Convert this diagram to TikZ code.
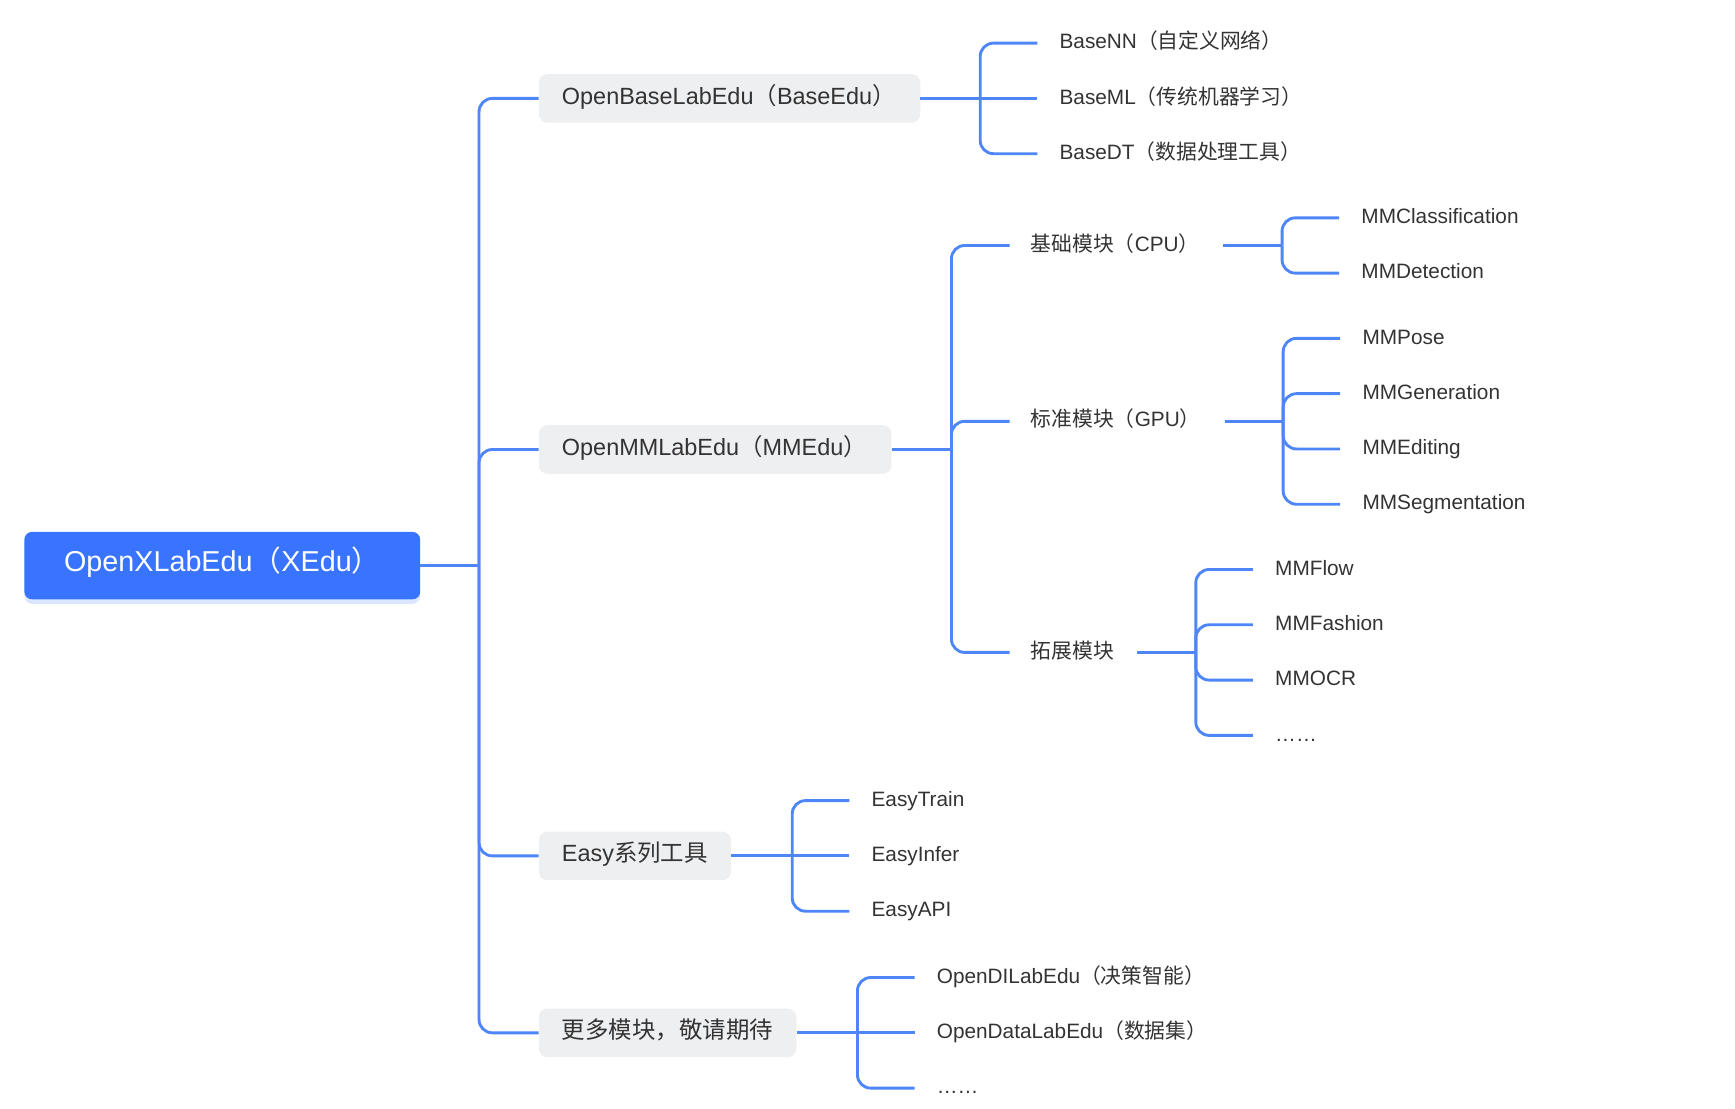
\documentclass[tikz,border=0pt]{standalone}
\usepackage{fontspec}
\setmainfont{Liberation Sans}
\newfontfamily\cjk{Noto Sans CJK SC}
\usetikzlibrary{shadows}
\newcommand\zh[1]{{\cjk #1}}
\newcommand\fs[1]{\fontsize{#1}{#1}\selectfont}
\definecolor{rootblue}{HTML}{3874FF}
\definecolor{linkblue}{HTML}{4F86F7}
\definecolor{boxgray}{HTML}{EEEFF1}
\definecolor{txt}{HTML}{333333}
\tikzset{
  rootbox/.style={rectangle, rounded corners=7pt, fill=rootblue, text=white,
    minimum width=358pt, minimum height=61pt, inner sep=0pt,
    font=\fs{26pt}, text height=1.02em, text depth=0pt,
    drop shadow={opacity=0.18, shadow xshift=0pt, shadow yshift=-4pt, fill=rootblue}},
  lvlbox/.style={rectangle, rounded corners=8pt, fill=boxgray, text=txt, anchor=west,
    minimum height=44pt, inner ysep=0pt, inner xsep=21pt,
    font=\fs{21.2pt}, text height=1.02em, text depth=0pt},
  midtext/.style={anchor=west, text=txt, inner ysep=0pt, inner xsep=19pt,
    font=\fs{18.8pt}, text height=1.02em, text depth=0pt},
  leaf/.style={anchor=west, text=txt, inner ysep=0pt, inner xsep=20pt,
    font=\fs{18.8pt}, text height=1.02em, text depth=0pt},
  link/.style={draw=linkblue, line width=2.6pt},
  curve/.style={link, rounded corners=12pt},
}
\begin{document}
\begin{tikzpicture}[x=1pt, y=-1pt]
\useasboundingbox (0,0) rectangle (1569,1002);

% root
\node[rootbox] (root) at (201,511.5) {OpenXLabEdu\zh{（}XEdu\zh{）}};
\coordinate (jroot) at ([xshift=53pt]root.east);

% level 1
\node[lvlbox] (b1) at (487,89) {\makebox[303pt][l]{OpenBaseLabEdu\zh{（}BaseEdu\zh{）}}};
\node[lvlbox] (b2) at (487,406.5) {\makebox[277pt][l]{OpenMMLabEdu\zh{（}MMEdu\zh{）}}};
\node[lvlbox] (b3) at (487,774) {\makebox[132pt][l]{Easy\zh{系列工具}}};
\node[lvlbox] (b4) at (487,934) {\makebox[191pt][l]{\zh{更多模块，敬请期待}}};

\draw[link] (root.east) -- (jroot);
\foreach \n in {b1,b2,b3,b4} \draw[curve] (jroot) |- (\n.west);

% BaseEdu children
\coordinate (j1) at ([xshift=54pt]b1.east);
\node[leaf] (nn) at (938,39) {BaseNN\zh{（自定义网络）}};
\node[leaf] (ml) at (938,89) {BaseML\zh{（传统机器学习）}};
\node[leaf] (dt) at (938,139) {BaseDT\zh{（数据处理工具）}};
\draw[link] (b1.east) -- (ml.west);
\draw[curve] (j1) |- (nn.west);
\draw[curve] (j1) |- (dt.west);

% MMEdu children
\coordinate (j2) at ([xshift=54pt]b2.east);
\node[midtext] (cpu) at (913,222) {\makebox[155pt][l]{\zh{基础模块（}CPU\zh{）}}};
\node[midtext] (gpu) at (913,381) {\makebox[156pt][l]{\zh{标准模块（}GPU\zh{）}}};
\node[midtext] (ext) at (913,590) {\makebox[77pt][l]{\zh{拓展模块}}};
\draw[link] (b2.east) -- (j2);
\foreach \n in {cpu,gpu,ext} \draw[curve] (j2) |- (\n.west);

% CPU children
\coordinate (j3) at ([xshift=53pt]cpu.east);
\node[leaf] (cls) at (1211,197) {MMClassification};
\node[leaf] (det) at (1211,247) {MMDetection};
\draw[link] (cpu.east) -- (j3);
\foreach \n in {cls,det} \draw[curve] (j3) |- (\n.west);

% GPU children
\coordinate (j4) at ([xshift=53pt]gpu.east);
\node[leaf] (pose) at (1212,306) {MMPose};
\node[leaf] (gen) at (1212,356) {MMGeneration};
\node[leaf] (edit) at (1212,406) {MMEditing};
\node[leaf] (seg) at (1212,456) {MMSegmentation};
\draw[link] (gpu.east) -- (j4);
\foreach \n in {pose,gen,edit,seg} \draw[curve] (j4) |- (\n.west);

% extension children
\coordinate (j5) at ([xshift=53pt]ext.east);
\node[leaf] (flow) at (1133,515) {MMFlow};
\node[leaf] (fash) at (1133,565) {MMFashion};
\node[leaf] (ocr) at (1133,615) {MMOCR};
\node[leaf] (etc1) at (1133,665) {……};
\draw[link] (ext.east) -- (j5);
\foreach \n in {flow,fash,ocr,etc1} \draw[curve] (j5) |- (\n.west);

% Easy children
\coordinate (j6) at ([xshift=55pt]b3.east);
\node[leaf] (train) at (768,724) {EasyTrain};
\node[leaf] (infer) at (768,774) {EasyInfer};
\node[leaf] (api) at (768,824) {EasyAPI};
\draw[link] (b3.east) -- (infer.west);
\draw[curve] (j6) |- (train.west);
\draw[curve] (j6) |- (api.west);

% more children
\coordinate (j7) at ([xshift=55pt]b4.east);
\node[leaf] (dil) at (827,884) {OpenDILabEdu\zh{（决策智能）}};
\node[leaf] (data) at (827,934) {OpenDataLabEdu\zh{（数据集）}};
\node[leaf] (etc2) at (827,984) {……};
\draw[link] (b4.east) -- (data.west);
\draw[curve] (j7) |- (dil.west);
\draw[curve] (j7) |- (etc2.west);
\end{tikzpicture}
\end{document}
